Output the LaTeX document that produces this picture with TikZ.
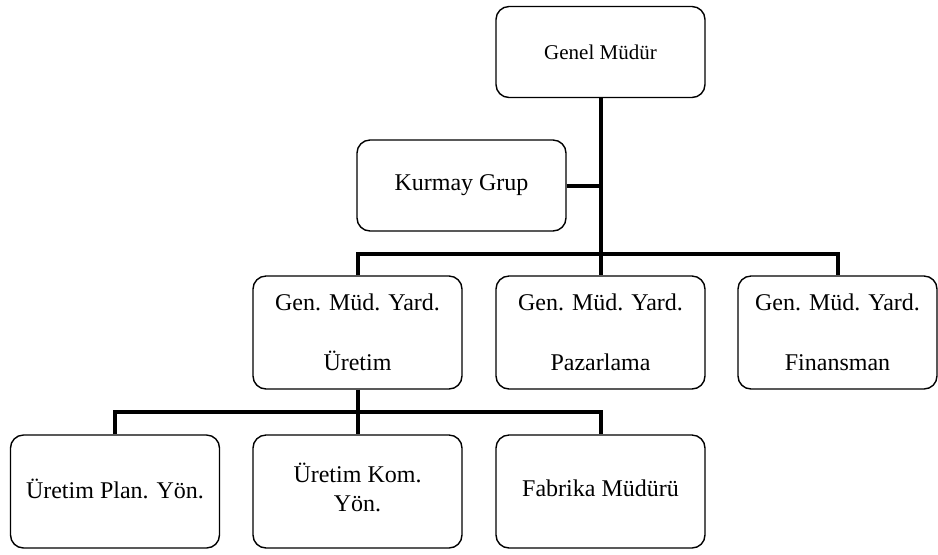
\documentclass[tikz,border=0pt]{standalone}
\usepackage{fontspec}
\setmainfont{Liberation Serif}
\begin{document}
\begin{tikzpicture}[x=0.5pt,y=-0.5pt,
  box/.style={draw,line width=0.7pt,rounded corners=6.5pt,minimum width=104.5pt,
    inner sep=0pt,align=center,font=\fontsize{12}{14.4}\selectfont},
  tall/.style={box,minimum height=56.5pt},
  conn/.style={line width=2pt}]
\useasboundingbox (0,0) rectangle (938,554);
\node[box,minimum height=45.5pt,font=\fontsize{10.5}{12.6}\selectfont] (gm) at (600.5,52) {\raisebox{-3pt}{Genel Müdür}};
\node[box,minimum height=45.5pt] (kg) at (461.5,185.5) {\raisebox{-3pt}{Kurmay Grup}};
\node[tall] (gmyU) at (357.5,332.5) {Gen. Müd. Yard.\\[15.6pt]Üretim};
\node[tall] (gmyP) at (600.5,332.5) {Gen. Müd. Yard.\\[15.6pt]Pazarlama};
\node[tall,minimum width=99.5pt] (gmyF) at (837.5,332.5) {Gen. Müd. Yard.\\[15.6pt]Finansman};
\node[tall] (upy) at (115,491.5) {\raisebox{3pt}{Üretim Plan. Yön.}};
\node[tall] (uky) at (357.5,491.5) {\raisebox{-4pt}{\begin{tabular}{@{}c@{}}Üretim Kom.\\Yön.\end{tabular}}};
\node[tall] (fm) at (600.5,491.5) {\raisebox{3pt}{Fabrika Müdürü}};
\coordinate (j1) at (600.5,254);
\coordinate (j2) at (357.5,412);
\draw[conn] (gm.south) -- (j1);
\draw[conn] (kg.east) -- (kg.east -| j1);
\draw[conn] (gmyU.north) |- (j1) -| (gmyF.north);
\draw[conn] (j1) -- (gmyP.north);
\draw[conn] (gmyU.south) -- (j2);
\draw[conn] (upy.north) |- (j2) -| (fm.north);
\draw[conn] (j2) -- (uky.north);
\end{tikzpicture}
\end{document}
